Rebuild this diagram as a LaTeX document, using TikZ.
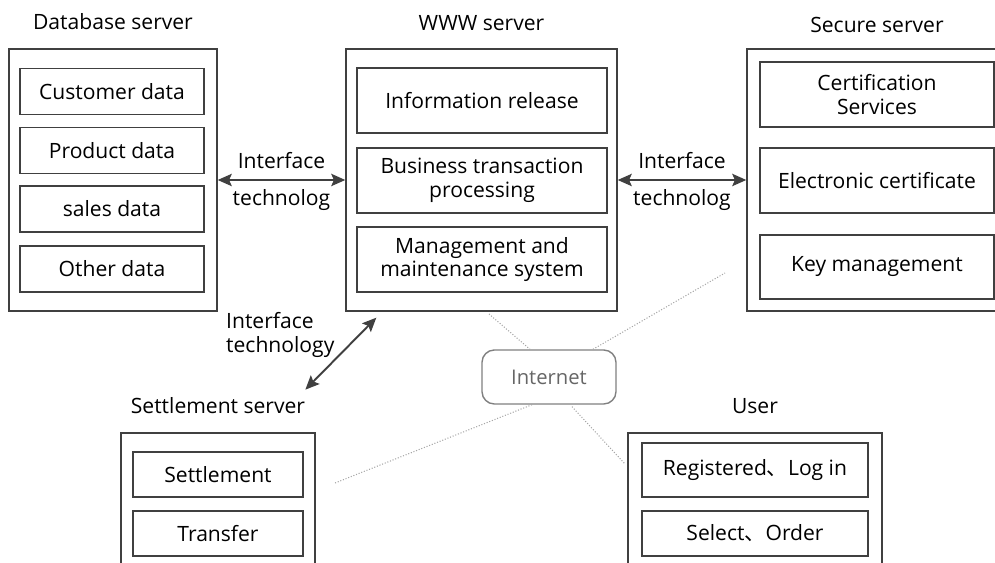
\documentclass[tikz,border=0pt]{standalone}
\usepackage{fontspec}
\setmainfont{Open Sans}
\newfontfamily\cjk{Noto Sans CJK SC}
\usetikzlibrary{positioning,calc,arrows.meta}
\tikzset{
    server/.style={rectangle, draw=black!75, line width=0.8pt},
    item/.style={rectangle, draw=black!75, line width=0.8pt, align=center,
        inner sep=1pt, font=\fontsize{12}{13.5}\selectfont},
    title/.style={font=\fontsize{12}{13.5}\selectfont, text=black},
    arrow/.style={line width=1.1pt, draw=black!75,
        {Stealth[length=8pt,width=7pt,inset=1.5pt]}-{Stealth[length=8pt,width=7pt,inset=1.5pt]}},
    wire/.style={densely dotted, draw=black!35, line width=0.6pt},
    net/.style={rectangle, rounded corners=7pt, draw=black!50, line width=0.8pt,
        minimum width=2.68cm, minimum height=1.08cm, text=black!60,
        font=\fontsize{11.5}{13}\selectfont}
}

\begin{document}
\begin{tikzpicture}[x=0.02cm, y=-0.02cm]
\clip (0,0) rectangle (995,563);

% servers
\node (db) [server, minimum width=4.16cm, minimum height=5.24cm] at (113,180) {};
\node (www) [server, minimum width=5.42cm, minimum height=5.24cm] at (481.5,180) {};
\node (sec) [server, minimum width=5.2cm, minimum height=5.24cm] at (877,180) {};
\node (setl) [server, minimum width=3.88cm, minimum height=2.94cm] at (218,506.5) {};
\node (user) [server, minimum width=5.08cm, minimum height=2.94cm] at (755,506.5) {};

\node (dbtitle) [title, above=0.24cm of db] {Database server};
\node (wwwtitle) [title, above=0.22cm of www] {WWW server};
\node (sectitle) [title, above=0.18cm of sec] {Secure server};
\node (setltitle) [title, above=0.24cm of setl] {Settlement server};
\node (usertitle) [title, above=0.24cm of user] {User};

% database server
\node (customer) [item, minimum width=3.68cm, minimum height=0.92cm] at (112,91.5) {\raisebox{-2pt}{Customer data}};
\node (product) [item, minimum width=3.68cm, minimum height=0.92cm] at (112,150.5) {\raisebox{-2pt}{Product data}};
\node (sales) [item, minimum width=3.68cm, minimum height=0.92cm] at (112,209) {\raisebox{-2pt}{sales data}};
\node (other) [item, minimum width=3.68cm, minimum height=0.92cm] at (112,269) {\raisebox{-2pt}{Other data}};

% www server
\node (release) [item, minimum width=5cm, minimum height=1.3cm] at (482,100.5) {Information release};
\node (business) [item, minimum width=5cm, minimum height=1.3cm] at (482,180.5) {
    Business transaction \\
    processing
};
\node (manage) [item, minimum width=5cm, minimum height=1.3cm] at (482,259.5) {
    Management and \\
    maintenance system
};

% secure server
\node (certserv) [item, minimum width=4.68cm, minimum height=1.3cm] at (877,94.5) {
    Certification \\
    Services
};
\node (ecert) [item, minimum width=4.68cm, minimum height=1.3cm] at (877,180.5) {Electronic certificate};
\node (keymgmt) [item, minimum width=4.68cm, minimum height=1.28cm] at (877,267) {Key management};

% settlement server
\node (settle) [item, minimum width=3.4cm, minimum height=0.9cm] at (218,474.5) {Settlement};
\node (transfer) [item, minimum width=3.4cm, minimum height=0.9cm] at (218,533.5) {Transfer};

% user
\node (login) [item, minimum width=4.52cm, minimum height=1.08cm] at (755,470) {Registered{\cjk 、}Log in};
\node (order) [item, minimum width=4.52cm, minimum height=0.9cm] at (755,533.5) {Select{\cjk 、}Order};

% internet
\node (internet) [net] at (549,377) {Internet};

% interface arrows
\draw [arrow] (db) -- node[title, above=2.5pt] {Interface} node[title, below=1.5pt] {technolog} (www);
\draw [arrow] (www) -- node[title, above=2.5pt] {Interface} node[title, below=1.5pt] {technolog} (sec);

\coordinate (wwwfoot) at ($(www.south west)+(31,6)$);
\coordinate (setlhead) at ($(setltitle.north east)+(-6,-2)$);
\draw [arrow] (wwwfoot) -- (setlhead);
\node (iflabel) [title, align=left, anchor=north west] at (220,306) {
    Interface \\
    technology
};

% internet links
\coordinate (w1) at (489,314);
\coordinate (w2) at (725,273);
\coordinate (w3) at (335,483);
\coordinate (w4) at (625,464);
\draw [wire] (w1) -- ($(internet.north)+(-19,0)$);
\draw [wire] ($(internet.north)+(44,0)$) -- (w2);
\draw [wire] ($(internet.south)+(-17,0)$) -- (w3);
\draw [wire] ($(internet.south)+(23,2)$) -- (w4);
\end{tikzpicture}
\end{document}
